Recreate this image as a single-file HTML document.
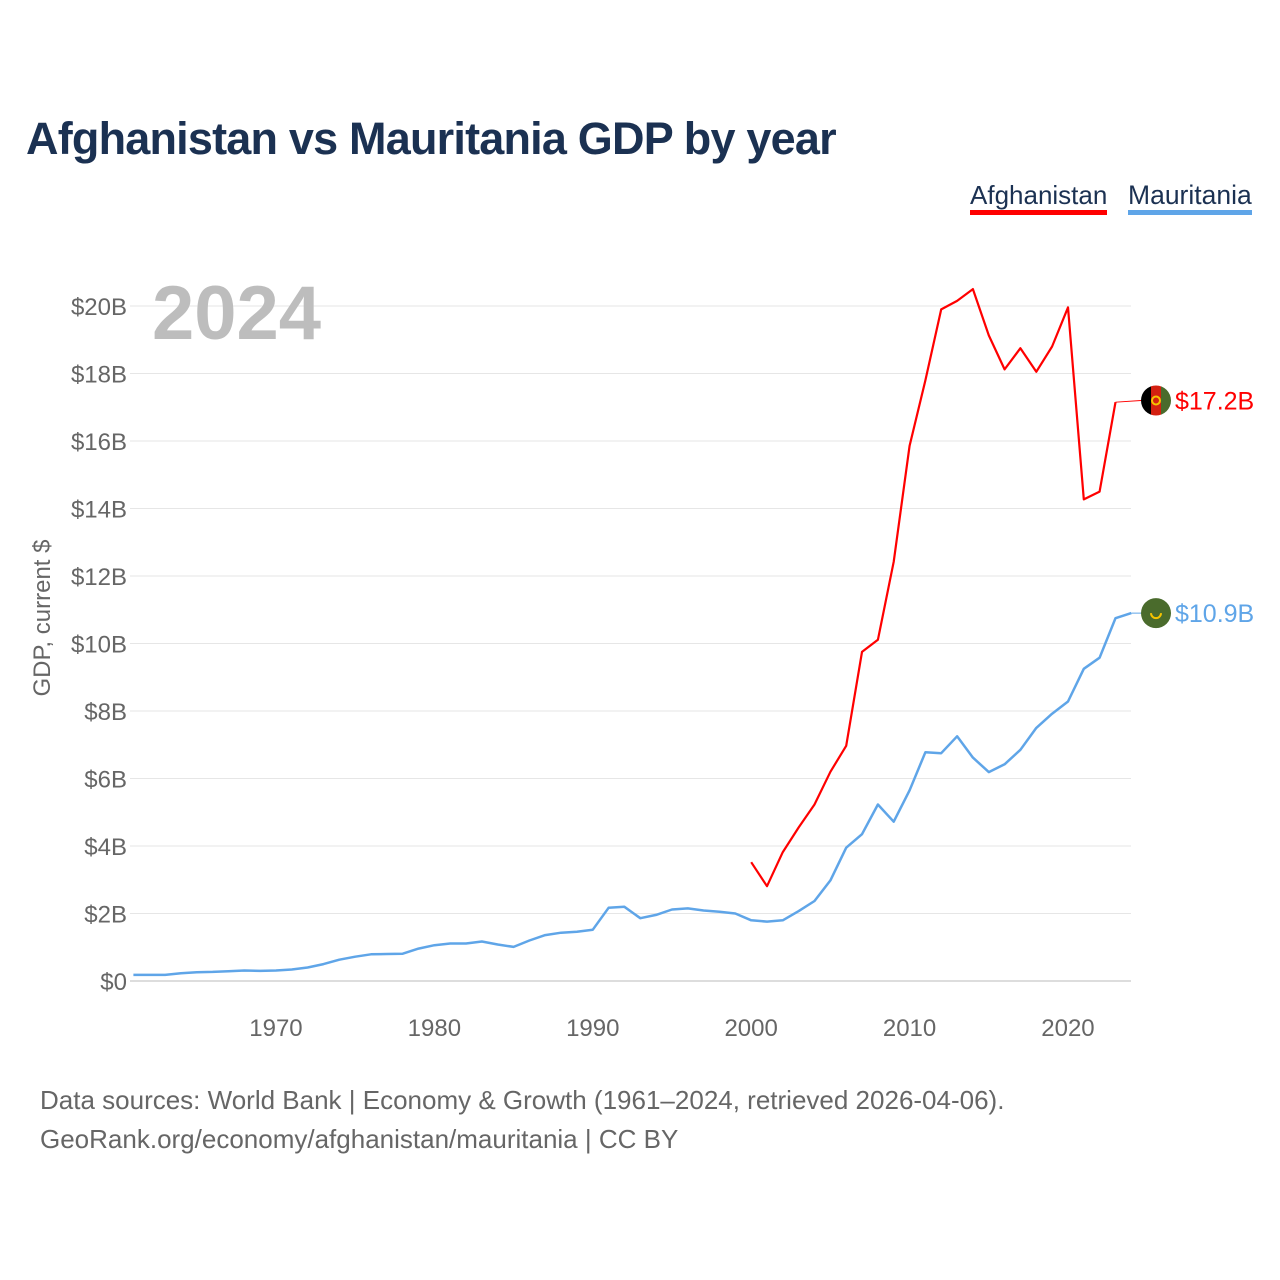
<!DOCTYPE html>
<html><head><meta charset="utf-8"><style>
body{margin:0;background:#fff;font-family:"Liberation Sans",sans-serif;}
#wrap{position:relative;width:1280px;height:1280px;overflow:hidden;}
.t{position:absolute;white-space:nowrap;}
</style></head><body>
<div id="wrap">
<div class="t" style="left:26px;top:113px;font-size:45px;font-weight:bold;color:#1b3152;letter-spacing:-0.8px">Afghanistan vs Mauritania GDP by year</div>
<div class="t" style="left:970px;top:180px;font-size:26px;color:#1b3152;border-bottom:5px solid #f00;line-height:30px">Afghanistan</div>
<div class="t" style="left:1128px;top:180px;font-size:26.5px;color:#1b3152;border-bottom:5px solid #5fa5e8;line-height:30px">Mauritania</div>
<div class="t" style="left:40px;top:1081px;font-size:26px;color:#666;line-height:39px">Data sources: World Bank | Economy &amp; Growth (1961–2024, retrieved 2026-04-06).<br>GeoRank.org/economy/afghanistan/mauritania | CC BY</div>
<svg id="chart" width="1280" height="1280" style="position:absolute;left:0;top:0"></svg>
</div>
<script>
const years=[];for(let y=1961;y<=2024;y++)years.push(y);
const mauritania=[0.18,0.18,0.18,0.23,0.26,0.27,0.29,0.31,0.30,0.31,0.34,0.40,0.50,0.63,0.72,0.79,0.80,0.81,0.96,1.06,1.11,1.11,1.17,1.08,1.01,1.20,1.36,1.43,1.46,1.52,2.17,2.20,1.86,1.96,2.12,2.15,2.09,2.05,2.00,1.80,1.76,1.80,2.07,2.37,2.98,3.95,4.35,5.23,4.72,5.65,6.78,6.75,7.25,6.62,6.19,6.42,6.85,7.50,7.92,8.28,9.25,9.58,10.75,10.9];
const afgYears=[2000,2001,2002,2003,2004,2005,2006,2007,2008,2009,2010,2011,2012,2013,2014,2015,2016,2017,2018,2019,2020,2021,2022,2023];
const afghanistan=[3.52,2.81,3.82,4.55,5.23,6.2,6.97,9.75,10.11,12.42,15.86,17.8,19.9,20.15,20.5,19.13,18.12,18.75,18.05,18.8,19.96,14.27,14.5,17.15];
const yTicks=[0,2,4,6,8,10,12,14,16,18,20];
const yTickLabels=["$0","$2B","$4B","$6B","$8B","$10B","$12B","$14B","$16B","$18B","$20B"];
const xTicks=[1970,1980,1990,2000,2010,2020];
const lastLabels=["$17.2B","$10.9B"];
const lastValues=[17.2,10.9];

const svg=document.getElementById('chart');const NS="http://www.w3.org/2000/svg";
const X=y=>133.4+(y-1961)*15.84;
const Y=v=>981-v*33.75;
function mk(tag,attrs,txt){const e=document.createElementNS(NS,tag);for(const k in attrs)e.setAttribute(k,attrs[k]);if(txt!==undefined)e.textContent=txt;svg.appendChild(e);return e;}
yTicks.forEach((t,i)=>{
 const g=mk('line',{x1:130,x2:1131,y1:Y(t),y2:Y(t),stroke:t===0?'#ddd':'#e6e6e6','stroke-width':t===0?2:1});
 
 
 const l=mk('text',{x:127,y:Y(t)+9,'text-anchor':'end','font-size':24,fill:'#666','font-family':'Liberation Sans'},yTickLabels[i]);
 
 
});
xTicks.forEach(t=>{
 const l=mk('text',{x:X(t),y:1036,'text-anchor':'middle','font-size':24,fill:'#666','font-family':'Liberation Sans'},String(t));
 
 
});
const yt=mk('text',{x:0,y:0,transform:'translate(50,618) rotate(-90)','text-anchor':'middle','font-size':24,fill:'#666','font-family':'Liberation Sans'},'GDP, current $');


const yr=mk('text',{x:152,y:339,'font-size':76,'font-weight':'bold',fill:'#bdbdbd','font-family':'Liberation Sans'},'2024');


const pm=mk('path',{d:mauritania.map((v,i)=>(i?'L':'M')+X(years[i]).toFixed(1)+','+Y(v).toFixed(1)).join(''),fill:'none',stroke:'#5fa5e8','stroke-width':2.5,'stroke-linejoin':'round'});


const pa=mk('path',{d:afghanistan.map((v,i)=>(i?'L':'M')+X(afgYears[i]).toFixed(1)+','+Y(v).toFixed(1)).join(''),fill:'none',stroke:'#f00','stroke-width':2.2,'stroke-linejoin':'round'});


const c1=mk('line',{x1:X(2023),x2:1141,y1:Y(afghanistan[afghanistan.length-1]),y2:Y(lastValues[0]),stroke:'#f00','stroke-width':1});


const c2=mk('line',{x1:X(2024),x2:1141,y1:Y(lastValues[1]),y2:Y(lastValues[1]),stroke:'#5fa5e8','stroke-width':1});


const ay=Y(lastValues[0]);
const defs=mk('defs',{});
const cp=document.createElementNS(NS,'clipPath');cp.setAttribute('id','cA');const cc=document.createElementNS(NS,'circle');cc.setAttribute('cx',1156);cc.setAttribute('cy',ay);cc.setAttribute('r',15);cp.appendChild(cc);defs.appendChild(cp);
const fg=mk('g',{'clip-path':'url(#cA)'});


[['#000',1141],['#d32011',1151],['#4a6b2c',1161]].forEach(([c,x])=>{const r=document.createElementNS(NS,'rect');r.setAttribute('x',x);r.setAttribute('y',ay-15);r.setAttribute('width',10.5);r.setAttribute('height',30);r.setAttribute('fill',c);fg.appendChild(r);});
const em=mk('circle',{cx:1156,cy:ay,r:4,fill:'none',stroke:'#f5c400','stroke-width':2});


const my=Y(lastValues[1]);
const mf=mk('circle',{cx:1156,cy:my,r:15,fill:'#4a6b2c'});


const mc=mk('path',{d:`M${1151},${my}a5,5 0 0 0 10,0`,fill:'none',stroke:'#f5c400','stroke-width':2});


const l1=mk('text',{x:1175,y:ay+9,'font-size':25,fill:'#f00','font-family':'Liberation Sans'},lastLabels[0]);


const l2=mk('text',{x:1175,y:my+9,'font-size':25,fill:'#5fa5e8','font-family':'Liberation Sans'},lastLabels[1]);


</script>
</body></html>
